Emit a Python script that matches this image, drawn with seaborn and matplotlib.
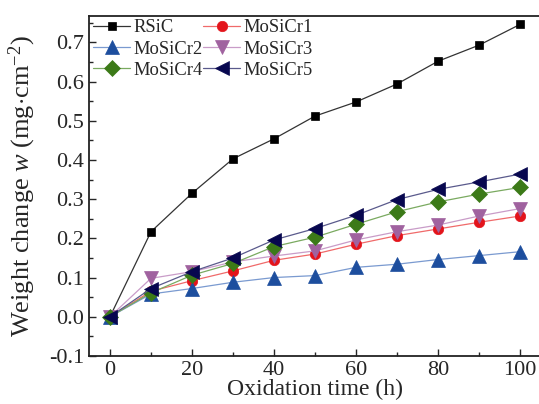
import matplotlib
matplotlib.use("Agg")
import matplotlib.pyplot as plt
import seaborn as sns
import pandas as pd
from matplotlib.ticker import MultipleLocator, FormatStrFormatter

time_h = [0, 10, 20, 30, 40, 50, 60, 70, 80, 90, 100]
rsic = [0.0, 0.217, 0.315, 0.403, 0.454, 0.512, 0.548, 0.594, 0.652, 0.693, 0.746]
mosicr1 = [0.0, 0.065, 0.092, 0.117, 0.144, 0.160, 0.185, 0.207, 0.224, 0.241, 0.257]
mosicr2 = [0.0, 0.058, 0.072, 0.088, 0.100, 0.105, 0.126, 0.134, 0.146, 0.156, 0.166]
mosicr3 = [0.0, 0.098, 0.115, 0.140, 0.155, 0.168, 0.196, 0.217, 0.234, 0.257, 0.276]
mosicr4 = [0.0, 0.061, 0.106, 0.136, 0.179, 0.203, 0.236, 0.268, 0.293, 0.313, 0.330]
mosicr5 = [0.0, 0.072, 0.115, 0.150, 0.196, 0.225, 0.259, 0.299, 0.325, 0.344, 0.364]

names = ["RSiC", "MoSiCr1", "MoSiCr2", "MoSiCr3", "MoSiCr4", "MoSiCr5"]
series = [rsic, mosicr1, mosicr2, mosicr3, mosicr4, mosicr5]

sns.set_style("ticks")
plt.rcParams["font.family"] = ["Liberation Serif", "DejaVu Serif"]
plt.rcParams["mathtext.fontset"] = "custom"
plt.rcParams["mathtext.rm"] = "Liberation Serif"
plt.rcParams["mathtext.it"] = "Liberation Serif:italic"

styles = {
    "RSiC":    dict(marker="s", ms=6.2, mc="#000000", lc="#333333"),
    "MoSiCr1": dict(marker="o", ms=7.5, mc="#e3141b", lc="#f06a6a"),
    "MoSiCr2": dict(marker="^", ms=9.5, mc="#1d4e9e", lc="#7a9ad0"),
    "MoSiCr3": dict(marker="v", ms=9.5, mc="#a0629f", lc="#c99cc8"),
    "MoSiCr4": dict(marker="D", ms=8, mc="#3c7a18", lc="#7aaa60"),
    "MoSiCr5": dict(marker="<", ms=9.5, mc="#07074f", lc="#5a5a8c"),
}

fig = plt.figure(figsize=(5.39, 4.04), dpi=100)
ax = fig.add_axes([0.166, 0.119, 0.837, 0.842])

for name, vals in zip(names, series):
    st = styles[name]
    df = pd.DataFrame({"t": time_h, "w": vals})
    sns.lineplot(data=df, x="t", y="w", ax=ax, color=st["lc"], lw=0.9,
                 marker=st["marker"], markersize=st["ms"],
                 markerfacecolor=st["mc"], markeredgecolor=st["mc"],
                 markeredgewidth=0.5, label=name)

ax.set_xlim(-5, 105)
ax.set_ylim(-0.1, 0.768)
ax.xaxis.set_major_locator(MultipleLocator(20))
ax.xaxis.set_minor_locator(MultipleLocator(10))
ax.yaxis.set_major_locator(MultipleLocator(0.1))
ax.yaxis.set_minor_locator(MultipleLocator(0.05))
ax.yaxis.set_major_formatter(FormatStrFormatter("%.1f"))
ax.tick_params(which="both", direction="in", top=False, right=False, labelsize=16, width=1.0)
ax.tick_params(which="major", length=5, pad=4)
ax.tick_params(which="minor", length=3)
for sp in ax.spines.values():
    sp.set_linewidth(1.3)
    sp.set_color("#222222")
ax.spines["right"].set_visible(False)

ax.set_xlabel("Oxidation time (h)", fontsize=17, labelpad=-1)
ax.set_ylabel(r"Weight change $w$ (mg$\cdot$cm$^{-2}$)", fontsize=19, labelpad=8)

handles, labels = ax.get_legend_handles_labels()
hmap = dict(zip(labels, handles))
order = ["RSiC", "MoSiCr2", "MoSiCr4", "MoSiCr1", "MoSiCr3", "MoSiCr5"]
ax.legend([hmap[n] for n in order], order, loc="upper left", ncol=2, frameon=False,
          fontsize=13.3, handlelength=2.0, handletextpad=0.2, columnspacing=0.0,
          labelspacing=0.22, borderaxespad=0.15, borderpad=0.05,
          bbox_to_anchor=(0.0, 1.0))

fig.savefig("out.png", dpi=100)
